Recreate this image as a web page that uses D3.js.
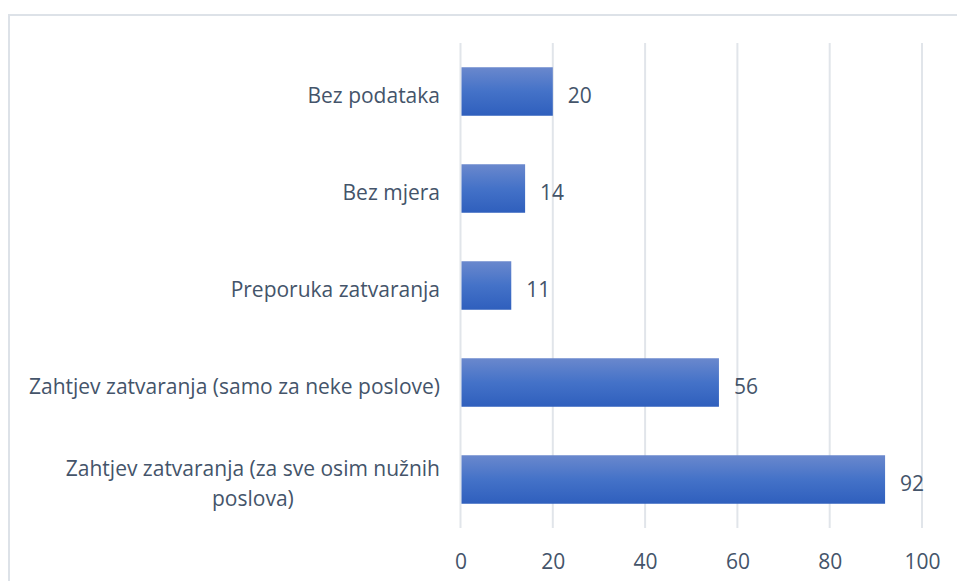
<!DOCTYPE html>
<html><head><meta charset="utf-8">
<script src="https://cdn.jsdelivr.net/npm/d3@7"></script>
<style>body{margin:0;background:#fff;} svg{display:block;}</style>
</head><body>
<svg id="c" width="957" height="581"></svg>
<script>
const categories = ["Bez podataka", "Bez mjera", "Preporuka zatvaranja", "Zahtjev zatvaranja (samo za neke poslove)", "Zahtjev zatvaranja (za sve osim nužnih poslova)"];
const values = [20, 14, 11, 56, 92];
const xTicks = [0, 20, 40, 60, 80, 100];

const svg = d3.select("#c");
const font = "'Open Sans', sans-serif";
const fs = 21;
const textColor = "#44546a";

// chart border
svg.append("rect").attr("x", 9).attr("y", 15).attr("width", 1000).attr("height", 1000)
  .attr("fill", "none").attr("stroke", "#dde2e8").attr("stroke-width", 2);

const x = d3.scaleLinear().domain([0, 100]).range([460.5, 922]);
const y = d3.scaleBand().domain(categories).range([43, 528]).paddingInner(0.5).paddingOuter(0.25);

const defs = svg.append("defs");
const grad = defs.append("linearGradient").attr("id", "g").attr("x1", 0).attr("y1", 0).attr("x2", 0).attr("y2", 1);
grad.append("stop").attr("offset", "0%").attr("stop-color", "#6a88cd");
grad.append("stop").attr("offset", "50%").attr("stop-color", "#4472c8");
grad.append("stop").attr("offset", "100%").attr("stop-color", "#2f5fbd");

// gridlines
svg.append("g").selectAll("line").data(xTicks).join("line")
  .attr("x1", d => x(d)).attr("x2", d => x(d)).attr("y1", 43).attr("y2", 528)
  .attr("stroke", "#e1e5ea").attr("stroke-width", 2);

// bars
svg.append("g").selectAll("rect").data(values).join("rect")
  .attr("x", x(0) + 1).attr("y", (d, i) => y(categories[i]))
  .attr("width", d => x(d) - x(0) - 1).attr("height", y.bandwidth())
  .attr("fill", "url(#g)");

// value labels
svg.append("g").selectAll("text").data(values).join("text")
  .attr("x", d => x(d) + 15).attr("y", (d, i) => y(categories[i]) + y.bandwidth() / 2 + 11)
  .attr("font-family", font).attr("font-size", fs).attr("fill", textColor)
  .text(d => d);

// x axis
const xAxis = d3.axisBottom(x).tickValues(xTicks).tickSize(0).tickPadding(0);
const gx = svg.append("g").attr("transform", "translate(0,569)").call(xAxis);
gx.select(".domain").remove();
gx.selectAll("text").attr("font-family", font).attr("font-size", fs).attr("fill", textColor).attr("dy", "0");

// y category labels (wrapped where needed)
const wrapLines = {
  "Zahtjev zatvaranja (za sve osim nužnih poslova)": ["Zahtjev zatvaranja (za sve osim nužnih", "poslova)"]
};
const yl = svg.append("g");
categories.forEach(c => {
  const lines = wrapLines[c] || [c];
  const cy = y(c) + y.bandwidth() / 2;
  const lh = 30;
  const t = yl.append("text").attr("font-family", font).attr("font-size", fs).attr("fill", textColor)
    .attr("text-anchor", "middle");
  lines.forEach((l, i) => {
    t.append("tspan").attr("x", 0).attr("y", cy + 11 + (i - (lines.length - 1) / 2) * lh).text(l);
  });
});
// right-align block so widest line ends at 440, center lines within block
yl.selectAll("text").each(function() {
  const t = d3.select(this);
  const w = this.getBBox().width;
  t.selectAll("tspan").attr("x", 440 - w / 2);
});
</script>
</body></html>
